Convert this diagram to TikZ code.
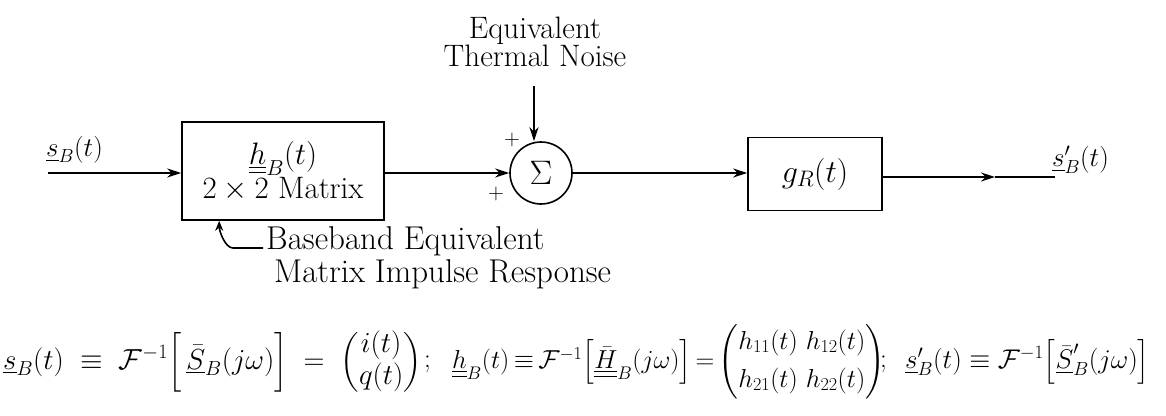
\RequirePackage{fix-cm}
\documentclass[tikz,border=0pt]{standalone}
\usepackage{amsmath}
\usetikzlibrary{calc,arrows.meta}
\tikzset{
  blk/.style={draw,line width=1.6pt,inner sep=0pt,align=center},
  wire/.style={line width=1.6pt},
  arr/.style={wire,-{Stealth[length=14pt,width=9pt]}},
  lbl/.style={inner sep=0pt,font=\fontsize{27}{30}\selectfont},
  eqs/.style={inner sep=0pt,anchor=west},
}
\begin{document}
\begin{tikzpicture}[x=1pt,y=-1pt]
\useasboundingbox (0,0) rectangle (1166,415);
% nodes
\node[blk,minimum width=202pt,minimum height=98pt,font=\fontsize{31}{40}\selectfont] (hb) at (283,171)
  {$\underline{\underline{h}}_B(t)$\\[-6pt] $2\times2$ Matrix};
\node[draw,circle,line width=1.6pt,minimum size=62pt,inner sep=0pt,font=\fontsize{34}{38}\selectfont] (sum) at (541,173) {$\Sigma$};
\node[blk,minimum width=134pt,minimum height=73pt,font=\fontsize{32}{36}\selectfont] (gr) at (815,174) {$g_R(t)$};
\node[lbl,anchor=west] (in) at (46,150) {$\underline{s}_B(t)$};
\node[lbl,anchor=west] (out) at (1052,160) {$\underline{s}'_B(t)$};
\node[lbl,align=center,font=\fontsize{31}{28}\selectfont] (noise) at (535,42) {Equivalent\\Thermal Noise};
\node[lbl,anchor=west,align=left,font=\fontsize{33}{33}\selectfont] (ann) at (266,258) {Baseband Equivalent\\\hspace*{8pt}Matrix Impulse Response};
\node[lbl,font=\fontsize{22}{24}\selectfont] (p1) at (512,140) {$+$};
\node[lbl,font=\fontsize{22}{24}\selectfont] (p2) at (496,194) {$+$};
% coordinates
\coordinate (ins) at (48,173);
\coordinate (nz) at (534,86);
\coordinate (omid) at (995,177);
\coordinate (oend) at (1055,177);
\coordinate (hk) at (263,248);
% connectors
\draw[arr] (ins) -- (ins -| hb.west);
\draw[arr] (hb.east |- sum.west) -- (sum.west);
\draw[arr] (nz) -- (sum.north -| nz);
\draw[arr] (sum.east) -- (sum.east -| gr.west);
\draw[arr] (gr.east |- omid) -- (omid);
\draw[wire] (omid) -- (oend);
\draw[wire,-{Stealth[length=10pt,width=8pt]}] (hk) -- ++(-30,0) .. controls +(-8,0) and +(0,10) .. ($(hb.south west)+(38,0)$);
% equation
\node[eqs,font=\fontsize{29}{32}\selectfont] (eq1) at (3,362)
{$\underline{s}_B(t)\;\mathrel{\equiv}\;\mathcal{F}^{-1}\Bigl[\,\underline{\bar{S}}_B(j\omega)\Bigr]\;=\;\begin{pmatrix}i(t)\\ q(t)\end{pmatrix}$};
\node[eqs,font=\fontsize{27}{30}\selectfont] (s1) at (424,364) {$;$};
\node[eqs,font=\fontsize{26}{30}\selectfont] (eq2) at (452,362)
{$\thickmuskip=3mu\arraycolsep=4pt\underline{\underline{h}}_B(t)\equiv\mathcal{F}^{-1}\Bigl[\underline{\underline{\bar{H}}}_B(j\omega)\Bigr]=\begin{pmatrix}h_{11}(t) & h_{12}(t)\\[8pt] h_{21}(t) & h_{22}(t)\end{pmatrix}$};
\node[eqs,font=\fontsize{27}{30}\selectfont] (s2) at (880,364) {$;$};
\node[eqs,font=\fontsize{27}{30}\selectfont] (eq3) at (905,362)
{$\underline{s}'_B(t)\equiv\mathcal{F}^{-1}\Bigl[\underline{\bar{S}}'_B(j\omega)\Bigr]$};
\end{tikzpicture}
\end{document}
